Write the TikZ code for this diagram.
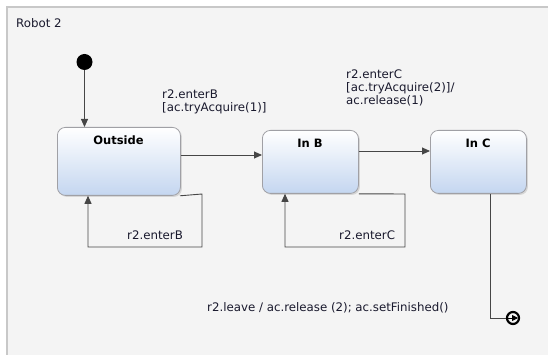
\documentclass[tikz,border=0pt]{standalone}
\usepackage{fontspec}
\setmainfont{DejaVu Sans}
\usetikzlibrary{arrows.meta,shadows}
\definecolor{framebg}{RGB}{244,244,244}
\definecolor{frameline}{RGB}{200,200,200}
\definecolor{stateline}{RGB}{160,160,165}
\definecolor{statebot}{RGB}{196,214,240}
\definecolor{wire}{RGB}{70,70,70}
\definecolor{ink}{RGB}{25,25,45}
\tikzset{
  statebox/.style={draw=stateline, line width=0.8pt, rounded corners=8pt,
    top color=white, bottom color=statebot,
    drop shadow={shadow xshift=1.5pt, shadow yshift=-1.5pt, opacity=0.25},
    anchor=north west, inner sep=0pt},
  statelabel/.style={font=\bfseries\fontsize{11.5}{13}\selectfont, text=black},
  translabel/.style={font=\fontsize{11.8}{13}\selectfont, text=ink, align=left, inner sep=0pt},
  wireline/.style={draw=wire, line width=0.9pt},
  arrowline/.style={wireline, -{Triangle[length=8pt, width=7pt]}},
}
\begin{document}
\begin{tikzpicture}[x=1pt, y=-1pt]
\useasboundingbox (0,0) rectangle (548,355);
% region frame
\fill[white] (0,0) rectangle (548,355);
\fill[framebg] (7,7) rectangle (548,355);
\draw[frameline, line width=1.6pt] (7,355) -- (7,7) -- (548,7);
\node[translabel, anchor=west] (title) at (16,23) {Robot 2};

% initial pseudo-state
\node[circle, fill=black, minimum size=16pt, inner sep=0pt] (init) at (84.5,62) {};

% states
\node[statebox, minimum width=123pt, minimum height=68pt] (outside) at (57,127) {};
\node[statelabel] at (118.5,140) {Outside};
\node[statebox, minimum width=96pt, minimum height=63pt] (inb) at (262,130) {};
\node[statelabel] at (310,143) {In B};
\node[statebox, minimum width=96pt, minimum height=63pt] (inc) at (430,130) {};
\node[statelabel] at (478,143) {In C};

% final pseudo-state
\node[circle, draw=black, line width=2.2pt, minimum size=12pt, inner sep=0pt] (final) at (513,318) {};

% coordinates for the self loops and the exit path
\coordinate (o1) at (202,194);
\coordinate (o2) at (202,247);
\coordinate (o3) at (88,247);
\coordinate (b1) at (405,194);
\coordinate (b2) at (405,247);
\coordinate (b3) at (285,247);
\coordinate (c1) at (490,318);

% transitions
\draw[arrowline] (init) -- (init |- outside.north);
\draw[arrowline] (outside.east |- 0,155) -- (inb.west |- 0,155);
\draw[arrowline] (inb.east |- 0,151) -- (inc.west |- 0,151);
\draw[arrowline] (outside.south east -| 180,194) -- (o1) -- (o2) -- (o3) -- (o3 |- outside.south);
\draw[arrowline] (inb.south east) -- (b1) -- (b2) -- (b3) -- (b3 |- inb.south);
\draw[wireline] (inc.south -| c1) -- (c1) -- (final.west);
\draw[draw=black, line width=0.9pt, -{Triangle[length=6pt, width=6pt]}] (final.west) -- ([xshift=5pt]final.center);

% transition labels
\node[translabel, anchor=north west] (lab1) at (162,90) {r2.enterB\\{}[ac.tryAcquire(1)]};
\node[translabel, anchor=north west] (lab2) at (346,70) {r2.enterC\\{}[ac.tryAcquire(2)]/\\ac.release(1)};
\node[translabel, anchor=west] (lab3) at (127,235) {r2.enterB};
\node[translabel, anchor=west] (lab4) at (339,235) {r2.enterC};
\node[translabel, anchor=west] (lab5) at (207,308) {r2.leave / ac.release (2); ac.setFinished()};
\end{tikzpicture}
\end{document}
